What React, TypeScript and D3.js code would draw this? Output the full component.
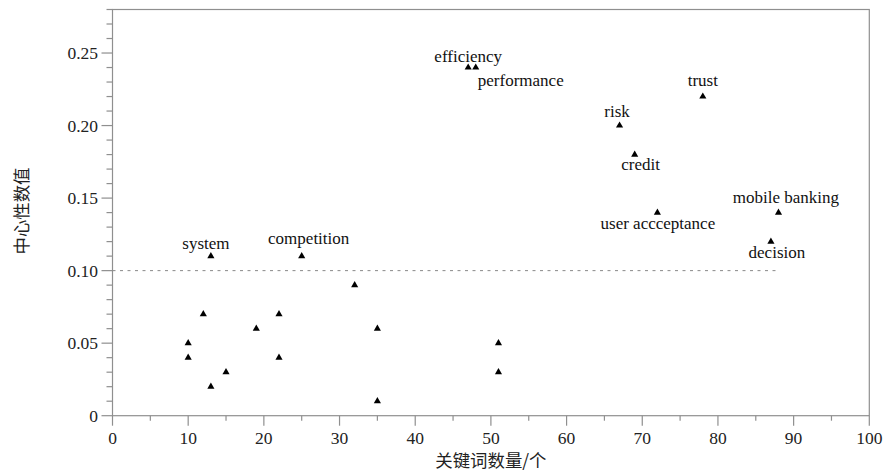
import React from "react";
import * as d3 from "d3";

const keywordCounts = [13, 25, 12, 10, 10, 13, 15, 19, 22, 22, 32, 35, 35, 51, 51, 47, 48, 78, 67, 69, 72, 88, 87];
const centralityValues = [0.11, 0.11, 0.07, 0.05, 0.04, 0.02, 0.03, 0.06, 0.07, 0.04, 0.09, 0.06, 0.01, 0.05, 0.03, 0.24, 0.24, 0.22, 0.2, 0.18, 0.14, 0.14, 0.12];
const pointLabels = ["system", "competition", "", "", "", "", "", "", "", "", "", "", "", "", "", "efficiency", "performance", "trust", "risk", "credit", "user accceptance", "mobile banking", "decision"];
// label offsets (dx, dy) relative to point, in px
const labelDx = [-5, 7, 0, 0, 0, 0, 0, 0, 0, 0, 0, 0, 0, 0, 0, 0, 45, 0, -2.5, 6, 0.5, 7.5, 6];
const labelDy = [-7, -12, 0, 0, 0, 0, 0, 0, 0, 0, 0, 0, 0, 0, 0, -6, 18, -11, -9, 15, 16, -10, 16];
const xTicks = [0, 10, 20, 30, 40, 50, 60, 70, 80, 90, 100];
const yTicks = [0, 0.05, 0.1, 0.15, 0.2, 0.25];
const thresholdValue = 0.1;
const thresholdEndX = 88;

export default function App() {
  const W = 883, H = 473;
  const left = 112.5, right = 869.3, top = 9.5, bottom = 415.7;
  const x = d3.scaleLinear().domain([0, 100]).range([left, right]);
  const y = d3.scaleLinear().domain([0, 0.28]).range([bottom, top]);
  const tri = d3.symbol().type(d3.symbolTriangle).size(22)();
  const minorX = d3.range(5, 100, 10);
  const minorY = d3.range(0, 0.281, 0.01).filter((v) => Math.round(v * 100) % 5 !== 0);
  const axisColor = "#8f8f8f";
  const font = "'Liberation Serif', 'Times New Roman', serif";
  const cjk = "'Noto Sans CJK SC', serif";
  return (
    <svg width={W} height={H} style={{ position: "absolute", left: 0, top: 0, background: "#fff" }}>
      <rect x={left} y={top} width={right - left} height={bottom - top} fill="none" stroke={axisColor} strokeWidth={1.2} />
      {xTicks.map((t) => (
        <g key={"x" + t}>
          <line x1={x(t)} x2={x(t)} y1={bottom} y2={bottom + 10} stroke={axisColor} strokeWidth={1.2} />
          <text x={x(t)} y={bottom + 28.5} textAnchor="middle" fontFamily={font} fontSize={17.5} fill="#222">{t}</text>
        </g>
      ))}
      {minorX.map((t) => (
        <line key={"mx" + t} x1={x(t)} x2={x(t)} y1={bottom} y2={bottom + 5} stroke={axisColor} strokeWidth={1.2} />
      ))}
      {yTicks.map((t) => (
        <g key={"y" + t}>
          <line x1={left - 11} x2={left} y1={y(t)} y2={y(t)} stroke={axisColor} strokeWidth={1.2} />
          <text x={left - 14.5} y={y(t) + 6.3} textAnchor="end" fontFamily={font} fontSize={17.5} fill="#222">{t === 0 ? "0" : t.toFixed(2)}</text>
        </g>
      ))}
      {minorY.map((t) => (
        <line key={"my" + t} x1={left - 6} x2={left} y1={y(t)} y2={y(t)} stroke={axisColor} strokeWidth={1.2} />
      ))}
      <line x1={x(0)} x2={x(thresholdEndX)} y1={y(thresholdValue)} y2={y(thresholdValue)} stroke="#888" strokeWidth={1} strokeDasharray="3,4.5" />
      {keywordCounts.map((k, i) => (
        <path key={"p" + i} d={tri} transform={`translate(${x(k)},${y(centralityValues[i])})`} fill="#000" />
      ))}
      {pointLabels.map((l, i) =>
        l ? (
          <text key={"l" + i} x={x(keywordCounts[i]) + labelDx[i]} y={y(centralityValues[i]) + labelDy[i]} textAnchor="middle" fontFamily={font} fontSize={17} fill="#111">{l}</text>
        ) : null
      )}
      <text x={(left + right) / 2} y={467} textAnchor="middle" fontFamily={cjk} fontSize={17.4} fill="#222">关键词数量/个</text>
      <text transform={`translate(27.5,211) rotate(-90)`} textAnchor="middle" fontFamily={cjk} fontSize={17.4} fill="#222">中心性数值</text>
    </svg>
  );
}
